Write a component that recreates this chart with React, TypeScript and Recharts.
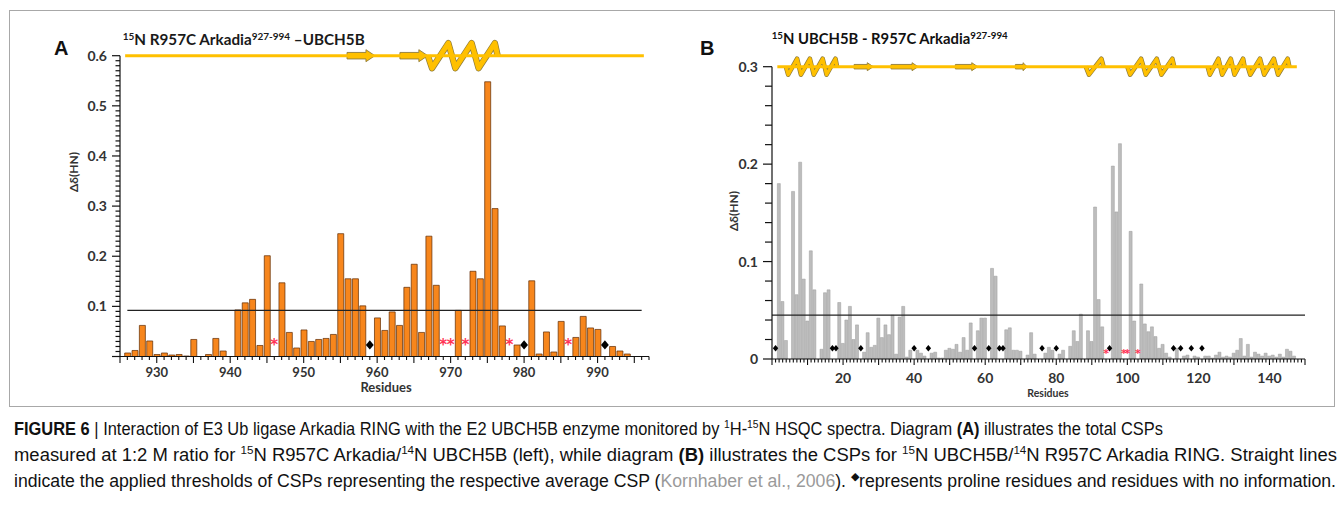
import React from "react";
import { ComposedChart, Bar, Scatter, XAxis, YAxis, ReferenceLine, ReferenceArea } from "recharts";

// Panel A: 15N R957C Arkadia(927-994) + UBCH5B
const residuesA = [926, 927, 928, 929, 930, 931, 932, 933, 934, 935, 937, 938, 939, 941, 942, 943, 944, 945, 947, 948, 949, 950, 951, 952, 953, 954, 955, 956, 957, 958, 960, 961, 962, 963, 964, 965, 966, 967, 968, 971, 973, 974, 975, 976, 977, 979, 981, 982, 983, 984, 985, 987, 988, 989, 990, 992, 993, 994];
const cspA = [0.007, 0.012, 0.062, 0.031, 0.004, 0.007, 0.003, 0.004, 0.001, 0.034, 0.004, 0.036, 0.011, 0.093, 0.107, 0.114, 0.022, 0.201, 0.147, 0.048, 0.017, 0.053, 0.03, 0.034, 0.036, 0.044, 0.245, 0.155, 0.155, 0.101, 0.077, 0.052, 0.089, 0.062, 0.138, 0.184, 0.048, 0.24, 0.142, 0.092, 0.17, 0.155, 0.548, 0.295, 0.061, 0.023, 0.151, 0.005, 0.049, 0.009, 0.07, 0.038, 0.08, 0.057, 0.054, 0.02, 0.011, 0.005];
const diamondsA = [959, 980, 991];
const starsA = [946, 969, 970, 972, 978, 986];
const thresholdA = 0.092;
const backboneA = [925.7, 996.3];
const strandsA = [[955.9, 959.7], [963.1, 966.9]];
const helicesA = [[966.9, 976.4]];

// Panel B: 15N UBCH5B + R957C Arkadia
const residuesB = [
  2, 3, 4, 6, 7, 8, 9, 10, 11, 12,
  14, 15, 16, 19, 20, 21, 22, 23, 24, 26,
  27, 28, 29, 30, 31, 32, 33, 34, 35, 36,
  37, 38, 39, 41, 42, 43, 45, 46, 47, 48,
  49, 50, 51, 52, 53, 54, 55, 56, 58, 59,
  60, 62, 63, 66, 67, 68, 69, 70, 72, 73,
  74, 77, 78, 79, 81, 82, 84, 85, 86, 87,
  89, 90, 91, 92, 93, 96, 97, 98, 101, 102,
  104, 105, 106, 107, 108, 109, 110, 111, 112, 114,
  116, 117, 119, 120, 122, 123, 124, 125, 126, 127,
  128, 129, 130, 131, 132, 133, 134, 135, 136, 137,
  138, 139, 140, 141, 142, 143, 144, 145, 146, 147,
];
const cspB = [
  0.18, 0.059, 0.019, 0.172, 0.066, 0.202, 0.082, 0.039, 0.111, 0.071,
  0.01, 0.068, 0.071, 0.058, 0.016, 0.04, 0.054, 0.02, 0.035, 0.007,
  0.027, 0.012, 0.014, 0.042, 0.022, 0.035, 0.025, 0.045, 0.005, 0.043,
  0.054, 0.002, 0.009, 0.009, 0.006, 0.003, 0.006, 0.007, 0.001, 0.001,
  0.009, 0.011, 0.01, 0.015, 0.007, 0.022, 0.009, 0.037, 0.029, 0.042,
  0.042, 0.093, 0.085, 0.03, 0.032, 0.009, 0.009, 0.008, 0.004, 0.027,
  0.005, 0.006, 0.012, 0.009, 0.005, 0.009, 0.013, 0.029, 0.018, 0.046,
  0.029, 0.018, 0.156, 0.061, 0.033, 0.198, 0.151, 0.221, 0.131, 0.039,
  0.077, 0.036, 0.028, 0.033, 0.023, 0.011, 0.015, 0.006, 0.002, 0.011,
  0.003, 0.004, 0.003, 0.002, 0.003, 0.003, 0.001, 0.004, 0.007, 0.002,
  0.003, 0.002, 0.006, 0.009, 0.021, 0.003, 0.015, 0.002, 0.007, 0.005,
  0.003, 0.006, 0.003, 0.004, 0.002, 0.005, 0.002, 0.01, 0.008, 0.003,
];
const diamondsB = [1, 17, 18, 25, 40, 44, 57, 61, 64, 65, 76, 80, 95, 113, 115, 118, 121];
const starsB = [94, 99, 100, 103];
const thresholdB = 0.045;
const backboneB = [1.5, 147.7];
const strandsB = [[23.1, 28.5], [33.5, 41.1], [51.6, 57.9], [68.5, 71.8]];
const helicesB = [[3.9, 18.3], [88.3, 93.3], [100, 113.2], [122.6, 133], [133.9, 145.6]];

const dataA = residuesA.map((res, i) => ({ res, csp: cspA[i] }));
const dataB = residuesB.map((res, i) => ({ res, csp: cspB[i] }));

const range = (a: number, b: number, step = 1) => {
  const out: number[] = [];
  for (let v = a; v <= b + 1e-9; v += step) out.push(Math.round(v * 1000) / 1000);
  return out;
};

const LABEL_FONT = "Lato, 'Open Sans', sans-serif";
const YELLOW = "#FFC000";
const EDGE = "#8f7c3c";

const yTick = (majLen: number, minLen: number, fs: number, zeroLabel: boolean) => (p: any) => {
  const v = p.payload.value;
  const major = Math.round(v * 100) % 10 === 0;
  const len = major ? majLen : minLen;
  return (
    <g>
      <line x1={p.x - len} x2={p.x} y1={p.y} y2={p.y} stroke="#111" strokeWidth={1.2} />
      {major && (v > 0 || zeroLabel) && (
        <text x={p.x - majLen - 5} y={p.y + fs * 0.36} textAnchor="end" fontSize={fs} fontWeight={700} fontFamily={LABEL_FONT} fill="#333">
          {v === 0 ? "0" : v.toFixed(1)}
        </text>
      )}
    </g>
  );
};

const xTick = (longEvery: number, labelEvery: number, majLen: number, minLen: number, fs: number, dy: number) => (p: any) => {
  const v = p.payload.value;
  const long = v % longEvery === 0;
  return (
    <g>
      <line x1={p.x} x2={p.x} y1={p.y} y2={p.y + (long ? majLen : minLen)} stroke="#111" strokeWidth={1.1} />
      {v % labelEvery === 0 && v > 0 && (
        <text x={p.x} y={p.y + dy} textAnchor="middle" fontSize={fs} fontWeight={700} fontFamily={LABEL_FONT} fill="#333">
          {v}
        </text>
      )}
    </g>
  );
};

const helixShape = (amp: number, turnW: number, sw: number) => (p: any) => {
  const { x, y, width, height } = p;
  const cy = y + height / 2;
  const n = Math.max(1, Math.round(width / turnW));
  const step = width / n;
  const pts: string[] = [`${x},${cy}`];
  for (let i = 0; i < n; i++) {
    pts.push(`${x + step * (i + 0.18)},${cy + amp}`);
    pts.push(`${x + step * (i + 0.88)},${cy - amp}`);
  }
  pts.push(`${x + width},${cy}`);
  const d = pts.join(" ");
  return (
    <g>
      <polyline points={d} fill="none" stroke={EDGE} strokeWidth={sw + 1.4} strokeLinejoin="round" />
      <polyline points={d} fill="none" stroke={YELLOW} strokeWidth={sw} strokeLinejoin="round" />
    </g>
  );
};

const strandShape = (body: number, head: number) => (p: any) => {
  const { x, y, width, height } = p;
  const cy = y + height / 2;
  const hl = Math.min(head * 0.75, width * 0.35);
  const e = x + width;
  const d = `M${x},${cy - body / 2} L${e - hl},${cy - body / 2} L${e - hl},${cy - head / 2} L${e},${cy} L${e - hl},${cy + head / 2} L${e - hl},${cy + body / 2} L${x},${cy + body / 2} Z`;
  return <path d={d} fill={YELLOW} stroke={EDGE} strokeWidth={0.9} />;
};

const diamond = (s: number) => (p: any) => (
  <path d={`M${p.cx},${p.cy - s} L${p.cx + s * 0.85},${p.cy} L${p.cx},${p.cy + s} L${p.cx - s * 0.85},${p.cy} Z`} fill="#000" />
);

const star = (fs: number) => (p: any) => (
  <text x={p.cx} y={p.cy + fs * 0.55} textAnchor="middle" fontSize={fs} fontWeight={700} fill="#ff3355" fontFamily="'DejaVu Sans', sans-serif">
    *
  </text>
);

function PanelA() {
  return (
    <ComposedChart width={700} height={400} data={dataA} margin={{ top: 55.7, right: 51, bottom: 3.5, left: 60 }}>
      <XAxis
        dataKey="res"
        type="number"
        domain={[925, 997]}
        allowDataOverflow
        ticks={range(925, 997)}
        interval={0}
        tickLine={false}
        tickSize={0}
        tickMargin={0}
        axisLine={{ stroke: "#111", strokeWidth: 1.2 }}
        tick={xTick(5, 10, 6.5, 3.5, 13, 20)}
        height={40}
      />
      <YAxis
        type="number"
        domain={[0, 0.6]}
        allowDataOverflow
        ticks={range(0, 0.6, 0.01)}
        interval={0}
        tickLine={false}
        tickSize={0}
        tickMargin={0}
        axisLine={{ stroke: "#111", strokeWidth: 1.2 }}
        tick={yTick(8, 4.5, 14, false)}
        width={60}
      />
      <Bar dataKey="csp" barSize={6} fill="#F7861C" stroke="#5e2a00" strokeWidth={0.7} isAnimationActive={false} />
      <ReferenceLine
        segment={[{ x: 926, y: thresholdA }, { x: 996, y: thresholdA }]}
        stroke="#222"
        strokeWidth={1.2}
        ifOverflow="visible"
      />
      <ReferenceLine
        segment={[{ x: backboneA[0], y: 0.6 }, { x: backboneA[1], y: 0.6 }]}
        stroke={YELLOW}
        strokeWidth={3}
        ifOverflow="visible"
      />
      {strandsA.map(([a, b], i) => (
        <ReferenceArea key={"sa" + i} x1={a} x2={b} y1={0.59} y2={0.61} ifOverflow="visible" shape={strandShape(6.5, 12)} />
      ))}
      {helicesA.map(([a, b], i) => (
        <ReferenceArea key={"ha" + i} x1={a} x2={b} y1={0.59} y2={0.61} ifOverflow="visible" shape={helixShape(12.5, 21, 5)} />
      ))}
      <Scatter data={diamondsA.map((res) => ({ res, mark: 0.023 }))} dataKey="mark" shape={diamond(4.6)} isAnimationActive={false} />
      <Scatter data={starsA.map((res) => ({ res, mark: 0.03 }))} dataKey="mark" shape={star(15)} isAnimationActive={false} />
    </ComposedChart>
  );
}

function PanelB() {
  return (
    <ComposedChart width={662} height={400} data={dataB} margin={{ top: 66.7, right: 37, bottom: 3, left: 32 }}>
      <XAxis
        dataKey="res"
        type="number"
        domain={[0, 150]}
        allowDataOverflow
        ticks={range(0, 150)}
        interval={0}
        tickLine={false}
        tickSize={0}
        tickMargin={0}
        axisLine={{ stroke: "#111", strokeWidth: 1.2 }}
        tick={xTick(10, 20, 6, 3.5, 14, 24)}
        height={38}
      />
      <YAxis
        type="number"
        domain={[0, 0.3]}
        allowDataOverflow
        ticks={range(0, 0.3, 0.02)}
        interval={0}
        tickLine={false}
        tickSize={0}
        tickMargin={0}
        axisLine={{ stroke: "#111", strokeWidth: 1.2 }}
        tick={yTick(9, 7, 14, true)}
        width={60}
      />
      <Bar dataKey="csp" barSize={3} fill="#bdbdbd" stroke="#9d9d9d" strokeWidth={0.5} isAnimationActive={false} />
      <ReferenceLine y={thresholdB} stroke="#222" strokeWidth={1.2} />
      <ReferenceLine
        segment={[{ x: backboneB[0], y: 0.3 }, { x: backboneB[1], y: 0.3 }]}
        stroke={YELLOW}
        strokeWidth={3}
        ifOverflow="visible"
      />
      {strandsB.map(([a, b], i) => (
        <ReferenceArea key={"sb" + i} x1={a} x2={b} y1={0.295} y2={0.305} ifOverflow="visible" shape={strandShape(4.5, 8)} />
      ))}
      {helicesB.map(([a, b], i) => (
        <ReferenceArea key={"hb" + i} x1={a} x2={b} y1={0.295} y2={0.305} ifOverflow="visible" shape={helixShape(8, 13.6, 3.2)} />
      ))}
      <Scatter data={diamondsB.map((res) => ({ res, mark: 0.011 }))} dataKey="mark" shape={diamond(3.2)} isAnimationActive={false} />
      <Scatter data={starsB.map((res) => ({ res, mark: 0.008 }))} dataKey="mark" shape={star(11)} isAnimationActive={false} />
    </ComposedChart>
  );
}

type Seg = { t: string; b?: boolean; sup?: boolean; gray?: boolean };

const captionLines: { segs: Seg[]; width: number }[] = [
  {
    width: 1149,
    segs: [
      { t: "FIGURE 6", b: true },
      { t: " | Interaction of E3 Ub ligase Arkadia RING with the E2 UBCH5B enzyme monitored by " },
      { t: "1", sup: true },
      { t: "H-" },
      { t: "15", sup: true },
      { t: "N HSQC spectra. Diagram " },
      { t: "(A)", b: true },
      { t: " illustrates the total CSPs" },
    ],
  },
  {
    width: 1323,
    segs: [
      { t: "measured at 1:2 M ratio for " },
      { t: "15", sup: true },
      { t: "N R957C Arkadia/" },
      { t: "14", sup: true },
      { t: "N UBCH5B (left), while diagram " },
      { t: "(B)", b: true },
      { t: " illustrates the CSPs for " },
      { t: "15", sup: true },
      { t: "N UBCH5B/" },
      { t: "14", sup: true },
      { t: "N R957C Arkadia RING. Straight lines" },
    ],
  },
  {
    width: 1322,
    segs: [
      { t: "indicate the applied thresholds of CSPs representing the respective average CSP (" },
      { t: "Kornhaber et al., 2006", gray: true },
      { t: "). " },
      { t: "◆", sup: true },
      { t: "represents proline residues and residues with no information." },
    ],
  },
];

function renderSegs(segs: Seg[], supSize: number, shift: number) {
  let raised = false;
  return segs.map((s, i) => {
    let dy = 0;
    if (s.sup && !raised) { dy = -shift; raised = true; }
    else if (!s.sup && raised) { dy = shift; raised = false; }
    return (
      <tspan
        key={i}
        dy={dy || undefined}
        fontSize={s.sup ? supSize : undefined}
        fontWeight={s.b ? 700 : undefined}
        fill={s.gray ? "#9a9a9a" : undefined}
      >
        {s.t}
      </tspan>
    );
  });
}

const titleA: Seg[] = [{ t: "15", sup: true }, { t: "N  R957C Arkadia" }, { t: "927-994", sup: true }, { t: " –UBCH5B" }];
const titleB: Seg[] = [{ t: "15", sup: true }, { t: "N UBCH5B - R957C Arkadia" }, { t: "927-994", sup: true }];

export default function App() {
  return (
    <div style={{ position: "absolute", left: 0, top: 0, width: 1342, height: 508, background: "#fff", overflow: "hidden" }}>
      <div style={{ position: "absolute", left: 9, top: 10, width: 1324, height: 395, border: "1px solid #a8a8a8" }} />
      <div style={{ position: "absolute", left: 0, top: 0 }}>
        <PanelA />
      </div>
      <div style={{ position: "absolute", left: 680, top: 0 }}>
        <PanelB />
      </div>
      <svg width={1342} height={508} style={{ position: "absolute", left: 0, top: 0, pointerEvents: "none" }}>
        <text x={54} y={55} fontSize={20} fontWeight={700} fontFamily="'Liberation Sans', Arial, sans-serif" fill="#111">A</text>
        <text x={700} y={55} fontSize={20} fontWeight={700} fontFamily="'Liberation Sans', Arial, sans-serif" fill="#111">B</text>
        <text x={122.7} y={45} fontSize={14.5} fontWeight={700} fontFamily={LABEL_FONT} fill="#1a1a1a" textLength={242} lengthAdjust="spacingAndGlyphs">
          {renderSegs(titleA, 9.5, 5)}
        </text>
        <text x={771.7} y={44} fontSize={14.5} fontWeight={700} fontFamily={LABEL_FONT} fill="#111" textLength={236} lengthAdjust="spacingAndGlyphs">
          {renderSegs(titleB, 9.5, 5)}
        </text>
        <text transform="translate(78,172) rotate(-90)" textAnchor="middle" fontSize={12} fontWeight={700} fontFamily={LABEL_FONT} fill="#333">Δδ(HN)</text>
        <text transform="translate(738,211) rotate(-90)" textAnchor="middle" fontSize={12} fontWeight={700} fontFamily={LABEL_FONT} fill="#333">Δδ(HN)</text>
        <text x={386} y={392} textAnchor="middle" fontSize={13} fontWeight={700} fontFamily={LABEL_FONT} fill="#333">Residues</text>
        <text x={1048} y={397} textAnchor="middle" fontSize={10.5} fontWeight={700} fontFamily={LABEL_FONT} fill="#333">Residues</text>
        {captionLines.map((ln, i) => (
          <text
            key={i}
            x={14}
            y={434.5 + i * 26}
            fontSize={17.5}
            fontFamily="'Liberation Sans Narrow', 'Liberation Sans', Arial, sans-serif"
            fill="#111"
            textLength={ln.width}
            lengthAdjust="spacingAndGlyphs"
          >
            {renderSegs(ln.segs, 11, 6.5)}
          </text>
        ))}
      </svg>
    </div>
  );
}
